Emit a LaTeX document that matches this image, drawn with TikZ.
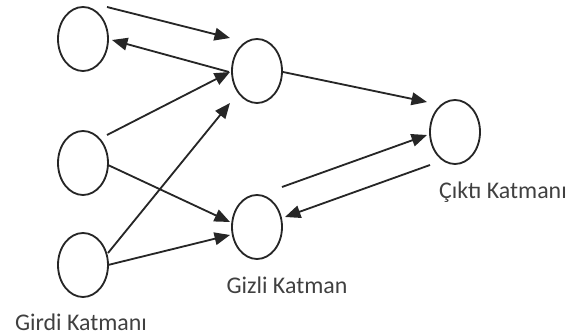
\documentclass[tikz,border=0pt]{standalone}
\usepackage{fontspec}
\setmainfont{Carlito}
\usepackage{tikz}
\usetikzlibrary{arrows.meta, positioning, calc, shapes.geometric}

\begin{document}
\begin{tikzpicture}[neuron/.style={ellipse,draw=black!85,line width=1.3pt,minimum width=1.25cm,minimum height=1.6cm,inner sep=0pt}, layerlabel/.style={font=\fontsize{17}{20}\selectfont,text=black!75,inner sep=0pt,text height=12pt,text depth=3pt}, ->, >={Triangle[length=11pt,width=9pt]}, line width=1.3pt, draw=black!85, node distance=1cm]
        \useasboundingbox (0,0) rectangle (14.2,8.375);
        \node[neuron] (i1) at (2.075,7.4) {};
        \node[neuron] (i2) at (2.075,4.3) {};
        \node[neuron] (i3) at (2.075,1.75) {};
        \node[neuron] (h1) at (6.425,6.6) {};
        \node[neuron] (h2) at (6.425,2.7) {};
        \node[neuron] (o) at (11.375,5.075) {};

        \node[layerlabel, below=0.38cm of i3, xshift=-0.05cm] (lin) {Girdi Katmanı};
        \node[layerlabel, below=0.4cm of h2, xshift=0.75cm] (lhid) {Gizli Katman};
        \node[layerlabel, below=0.4cm of o, xshift=1.2cm] (lout) {Çıktı Katmanı};

        \draw ($(i1)+(0.6,0.8)$) -- ($(h1)+(-0.675,0.825)$);
        \draw ($(h1)+(-0.7,-0.025)$) -- ($(i1)+(0.725,-0.025)$);
        \draw ($(i2)+(0.6,0.7)$) -- ($(h1)+(-0.675,-0.025)$);
        \draw ($(i3)+(0.625,0.3)$) -- ($(h1)+(-0.675,-0.8)$);
        \draw ($(i2)+(0.625,-0.05)$) -- ($(h2)+(-0.675,0.125)$);
        \draw ($(i3)+(0.625,0)$) -- ($(h2)+(-0.675,-0.2)$);
        \draw ($(h1)+(0.65,-0.025)$) -- ($(o)+(-0.7,0.75)$);
        \draw ($(h2)+(0.625,1.0)$) -- ($(o)+(-0.7,-0.075)$);
        \draw ($(o)+(-0.625,-0.825)$) -- ($(h2)+(0.7,0.25)$);
    \end{tikzpicture}
\end{document}
